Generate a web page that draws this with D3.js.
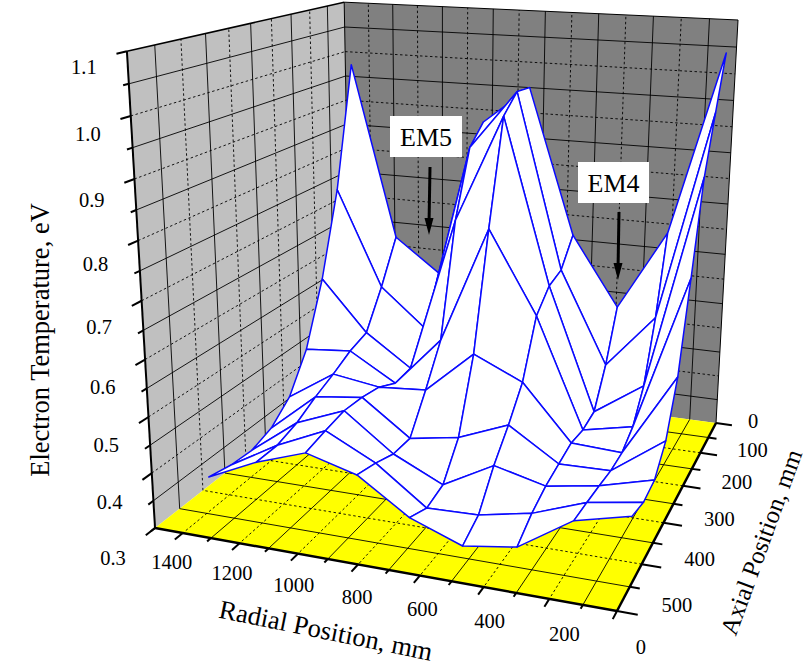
<!DOCTYPE html>
<html>
<head>
<meta charset="utf-8">
<script src="https://cdn.jsdelivr.net/npm/d3@7"></script>
<style>
html, body { margin: 0; padding: 0; background: #fff; }
text { font-family: "Liberation Serif", serif; fill: #000; }
</style>
</head>
<body>
<div id="chart"></div>
<script>
var width = 810,
    height = 667;

// grid of the surface, mm
var radialPositions = [1475, 1295, 1115, 935, 755, 575, 395, 215, 35];
var axialPositions = [0, 50, 100, 150, 200, 250, 300, 350, 400];

// electron temperature, eV. One row per axial position, one value per radial position
var tempAx0 = [0.974, 0.618, 0.550, 0.875, 0.950, 0.659, 0.519, 0.682, 1.038];
var tempAx50 = [0.729, 0.532, 0.454, 0.838, 0.954, 0.608, 0.423, 0.532, 0.938];
var tempAx100 = [0.561, 0.458, 0.394, 0.710, 0.920, 0.598, 0.354, 0.420, 0.834];
var tempAx150 = [0.437, 0.445, 0.390, 0.491, 0.721, 0.562, 0.347, 0.367, 0.666];
var tempAx200 = [0.364, 0.424, 0.410, 0.417, 0.501, 0.458, 0.352, 0.347, 0.506];
var tempAx250 = [0.329, 0.406, 0.418, 0.350, 0.366, 0.404, 0.343, 0.345, 0.416];
var tempAx300 = [0.315, 0.384, 0.421, 0.351, 0.306, 0.358, 0.334, 0.350, 0.376];
var tempAx350 = [0.318, 0.371, 0.413, 0.366, 0.296, 0.299, 0.318, 0.354, 0.370];
var tempAx400 = [0.328, 0.371, 0.403, 0.377, 0.314, 0.278, 0.293, 0.357, 0.381];
var temperature = [tempAx0, tempAx50, tempAx100, tempAx150, tempAx200, tempAx250, tempAx300, tempAx350, tempAx400];

var radialTicks = [0, 200, 400, 600, 800, 1000, 1200, 1400];
var axialTicks = [0, 100, 200, 300, 400, 500];
var tempTicks = [0.3, 0.4, 0.5, 0.6, 0.7, 0.8, 0.9, 1.0, 1.1];

var radialMax = 1500,
    axialMax = 500,
    tempMin = 0.3,
    tempMax = 1.1;

var rScale = d3.scaleLinear().domain([0, radialMax]).range([0, 1]);
var aScale = d3.scaleLinear().domain([0, axialMax]).range([0, 1]);
var tScale = d3.scaleLinear().domain([tempMin, tempMax]).range([0, 1]);

// perspective camera of the 3D box, homogeneous
function project(r, a, t) {
    var u = rScale(r),
        v = aScale(a),
        w = tScale(t);
    var den = 1 + 0.0875 * u - 0.247 * v - 0.0747 * w;
    return [
        (716 - 334.3 * u - 251.4 * v - 33.1 * w) / den,
        (423 - 16.3 * u + 37.1 * v - 404.5 * w) / den
    ];
}

var svg = d3.select("#chart").append("svg")
    .attr("width", width)
    .attr("height", height)
    .style("display", "block");

var path = d3.line();

function polygon(points, fill) {
    svg.append("path")
        .attr("d", path(points) + "Z")
        .style("fill", fill)
        .style("stroke", "none");
}

function segment(a, b, sw, dashed) {
    svg.append("line")
        .attr("x1", a[0]).attr("y1", a[1])
        .attr("x2", b[0]).attr("y2", b[1])
        .style("stroke", "#000")
        .style("stroke-width", sw)
        .style("stroke-dasharray", dashed ? "2.5,2.5" : null);
}

// walls and floor
polygon([project(radialMax, axialMax, tempMin), project(radialMax, 0, tempMin), project(radialMax, 0, tempMax), project(radialMax, axialMax, tempMax)], "#c0c0c0");
polygon([project(radialMax, 0, tempMin), project(0, 0, tempMin), project(0, 0, tempMax), project(radialMax, 0, tempMax)], "#808080");
polygon([project(0, 0, tempMin), project(0, axialMax, tempMin), project(radialMax, axialMax, tempMin), project(radialMax, 0, tempMin)], "#ffff00");

// grid: multiples of the labelled step are dashed, the ones between are solid
d3.range(100, radialMax, 100).forEach(function (r) {
    var dashed = r % 200 == 0;
    segment(project(r, 0, tempMin), project(r, axialMax, tempMin), 0.9, dashed);
    segment(project(r, 0, tempMin), project(r, 0, tempMax), 0.9, dashed);
});
d3.range(50, axialMax, 50).forEach(function (a) {
    var dashed = a % 100 == 0;
    segment(project(0, a, tempMin), project(radialMax, a, tempMin), 0.9, dashed);
    segment(project(radialMax, a, tempMin), project(radialMax, a, tempMax), 0.9, dashed);
});
d3.range(1, 16).forEach(function (k) {
    var t = tempMin + k * 0.05;
    var dashed = k % 2 == 0;
    segment(project(radialMax, axialMax, t), project(radialMax, 0, t), 0.9, dashed);
    segment(project(radialMax, 0, t), project(0, 0, t), 0.9, dashed);
});

// box edges
segment(project(radialMax, axialMax, tempMax), project(radialMax, 0, tempMax), 1.5);
segment(project(radialMax, 0, tempMax), project(0, 0, tempMax), 1);
segment(project(radialMax, 0, tempMin), project(radialMax, 0, tempMax), 1);
segment(project(0, 0, tempMin), project(0, 0, tempMax), 1);
segment(project(radialMax, axialMax, tempMin), project(radialMax, axialMax, tempMax), 2);
segment(project(0, axialMax, tempMin), project(radialMax, axialMax, tempMin), 2.5);
segment(project(0, 0, tempMin), project(0, axialMax, tempMin), 2.5);

// surface, painted from the far corner to the near one
var quads = [];
d3.range(axialPositions.length - 1).forEach(function (j) {
    d3.range(radialPositions.length - 1).forEach(function (i) {
        quads.push([
            project(radialPositions[i], axialPositions[j], temperature[j][i]),
            project(radialPositions[i + 1], axialPositions[j], temperature[j][i + 1]),
            project(radialPositions[i + 1], axialPositions[j + 1], temperature[j + 1][i + 1]),
            project(radialPositions[i], axialPositions[j + 1], temperature[j + 1][i])
        ]);
    });
});
svg.selectAll("path.cell")
    .data(quads)
    .enter().append("path")
    .attr("class", "cell")
    .attr("d", function (d) { return path(d) + "Z"; })
    .style("fill", "#fff")
    .style("stroke", "#0a0aff")
    .style("stroke-width", 1.5)
    .style("stroke-linejoin", "round");

// ticks stick out of the box along its own directions
d3.range(0, radialMax + 1, 100).forEach(function (r) {
    segment(project(r, axialMax, tempMin), project(r, axialMax * (r % 200 == 0 ? 1.032 : 1.016), tempMin), 2);
});
d3.range(0, axialMax + 1, 50).forEach(function (a) {
    segment(project(0, a, tempMin), project(-radialMax * (a % 100 == 0 ? 0.04 : 0.02), a, tempMin), 2);
});
d3.range(0, 17).forEach(function (k) {
    var t = tempMin + k * 0.05;
    segment(project(radialMax, axialMax, t), project(radialMax, axialMax * (k % 2 == 0 ? 1.036 : 1.02), t), 2);
});

function label(txt, x, y, size, angle) {
    svg.append("text")
        .attr("transform", "translate(" + x + "," + y + ") rotate(" + (angle || 0) + ")")
        .attr("text-anchor", "middle")
        .attr("dy", ".35em")
        .attr("font-size", size + "px")
        .text(txt);
}

// tick labels sit at a hand set distance from the axes
var rLabelDx = d3.scaleLinear().domain([0, 400, 1400]).range([24, 6, -11]),
    rLabelDy = d3.scaleLinear().domain([0, 1400]).range([36, 29]),
    aLabelDx = d3.scaleLinear().domain([0, 100, 500]).range([37, 52, 60]),
    aLabelDy = d3.scaleLinear().domain([0, 500]).range([-2, -6]),
    tLabelDx = d3.scaleLinear().domain([0.3, 1.1]).range([-42, -43]),
    tLabelDy = d3.scaleLinear().domain([0.3, 0.7, 1.1]).range([30, 26, 15]);

radialTicks.forEach(function (r) {
    var p = project(r, axialMax, tempMin);
    label(r, p[0] + rLabelDx(r), p[1] + rLabelDy(r), 20.5);
});
axialTicks.forEach(function (a) {
    var p = project(0, a, tempMin);
    label(a, p[0] + aLabelDx(a), p[1] + aLabelDy(a), 20.5);
});
tempTicks.forEach(function (t) {
    var p = project(radialMax, axialMax, t);
    label(t.toFixed(1), p[0] + tLabelDx(t), p[1] + tLabelDy(t), 20.5);
});

label("Electron Temperature, eV", 40, 340, 26.5, -90);
label("Radial Position, mm", 326, 630, 26.5, 11.5);
label("Axial Position, mm", 761, 542, 25, -70);

// EM callouts
var callouts = ["EM5", "EM4"];
var calloutBoxes = [[390, 116, 72, 41], [578, 162, 71, 41]];
var calloutArrows = [[430, 167, 429, 235], [619, 212, 618, 280]];

callouts.forEach(function (name, i) {
    var b = calloutBoxes[i],
        s = calloutArrows[i];
    svg.append("rect")
        .attr("x", b[0]).attr("y", b[1])
        .attr("width", b[2]).attr("height", b[3])
        .style("fill", "#fff");
    label(name, b[0] + b[2] / 2, b[1] + b[3] / 2, 26);
    segment([s[0], s[1]], [s[2], s[3] - 10], 3);
    polygon([[s[2], s[3]], [s[2] - 4.5, s[3] - 17], [s[2] + 4.5, s[3] - 17]], "#000");
});
</script>
</body>
</html>
